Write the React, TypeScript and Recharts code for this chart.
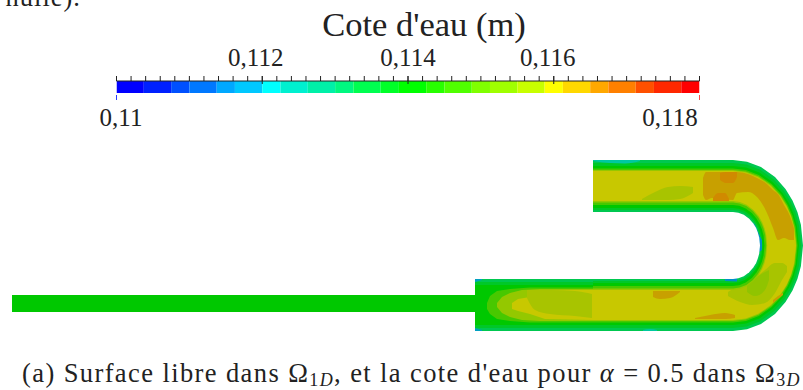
import React from "react";
import { Area, Bar, BarChart, ComposedChart, XAxis, YAxis } from "recharts";

// colour scale: each band is [width in m], same order as bandColors
const bandWidths = [
  0.000375, 0.000375, 0.00025, 0.000375, 0.00025, 0.000375, 0.00025, 0.000375, 0.000375,
  0.00025, 0.000375, 0.00025, 0.000375, 0.00025, 0.000375, 0.00025, 0.000375, 0.000375,
  0.00025, 0.000375, 0.00025, 0.000375, 0.00025, 0.000375, 0.00025,
];
const bandColors = [
  "#0000ff", "#0020ff", "#0050ff", "#0078ff", "#00a8ff", "#00c8ff", "#00ffff", "#00f0d0",
  "#00f0a8", "#00f880", "#00ff50", "#00ff28", "#00ff00", "#28ff00", "#50ff00", "#80ff00",
  "#a0ff00", "#c8ff00", "#ffff00", "#ffd800", "#ffa800", "#ff8000", "#ff5000", "#ff2800",
  "#ff0000",
];
const scaleTicks = [
  0.11, 0.1102, 0.1104, 0.1106, 0.1108, 0.111, 0.1112, 0.1114, 0.1116, 0.1118, 0.112,
  0.1122, 0.1124, 0.1126, 0.1128, 0.113, 0.1132, 0.1134, 0.1136, 0.1138, 0.114,
  0.1142, 0.1144, 0.1146, 0.1148, 0.115, 0.1152, 0.1154, 0.1156, 0.1158, 0.116,
  0.1162, 0.1164, 0.1166, 0.1168, 0.117, 0.1172, 0.1174, 0.1176, 0.1178, 0.118,
];
const upperLabels = [0.112, 0.114, 0.116];
const lowerLabels = [0.11, 0.118];

// channel outlines, rows are [x, y top, y bottom] in picture units
const pipe = [[12, 295, 312], [475, 295, 312]];
const outerEdge = [[475, 279, 331], [593, 279, 331], [593, 160, 331], [733, 160, 331], [747, 161.7, 329.3], [761, 167.1, 323.9], [775, 177.1, 313.9], [785.5, 189, 302], [792.5, 200.4, 290.6], [797.4, 212, 279], [800.9, 224.7, 266.3], [803, 245.5, 245.5]];
const outerTeal = [[475, 282, 328], [593, 282, 328], [593, 163, 328], [733, 163, 328], [746.6, 164.6, 326.4], [760.2, 169.8, 321.2], [773.8, 179.5, 311.5], [784, 191, 300], [790.8, 202, 289], [795.6, 213.2, 277.8], [799, 225.5, 265.5], [801, 245.5, 245.5]];
const outerGreen = [[475, 285, 325], [593, 285, 325], [593, 166, 325], [733, 166, 325], [746.2, 167.6, 323.4], [759.4, 172.6, 318.4], [772.6, 181.9, 309.1], [782.5, 193, 298], [789.1, 203.6, 287.4], [793.7, 214.3, 276.7], [797, 226.2, 264.8], [799, 245.5, 245.5]];
const outerLeaf = [[487, 303, 309], [490, 296, 314], [497, 291, 319], [510, 289, 321], [530, 287.5, 322.5], [593, 287.5, 322.5], [593, 168.5, 322.5], [733, 168.5, 322.5], [745.9, 170, 321], [758.8, 174.9, 316.1], [771.7, 183.9, 307.1], [781.4, 194.6, 296.4], [787.8, 204.9, 286.1], [792.3, 215.3, 275.7], [795.6, 226.8, 264.2], [797.5, 245.5, 245.5]];
const outerLime = [[497, 303, 307], [502, 297, 313], [510, 293, 317], [522, 290, 320], [540, 289, 321], [593, 289, 321], [593, 170, 321], [733, 170, 321], [745.7, 171.5, 319.5], [758.4, 176.3, 314.7], [771.1, 185.1, 305.9], [780.6, 195.6, 295.4], [787, 205.7, 285.3], [791.4, 215.9, 275.1], [794.6, 227.2, 263.8], [796.5, 245.5, 245.5]];
const core = [[512, 303, 309], [518, 299, 311], [530, 297, 314], [545, 290, 319], [593, 290, 320], [593, 171, 320], [733, 171, 320], [745.6, 172.5, 318.5], [758.2, 177.2, 313.8], [770.8, 185.9, 305.1], [780.3, 196.3, 294.7], [786.6, 206.2, 284.8], [791, 216.3, 274.7], [794.1, 227.4, 263.6], [796, 245.5, 245.5]];

// contour patches inside the core
const inletLime = [[527, 290, 298], [535, 290, 310], [550, 290, 314], [575, 291, 316], [592, 294, 318]];
const bendOchre = [[703, 178, 195], [706, 172, 200], [712, 172, 198], [733, 172, 200], [737, 172, 193], [748, 174, 192], [757, 178, 197], [767, 184, 213], [773, 190, 228], [778, 194, 240], [784, 205, 238], [790, 216, 240], [794, 228, 240]];
const bendOrangeA = [[720, 173, 180], [726, 172, 183], [733, 172, 183], [737, 172, 177]];
const bendOrangeB = [[713, 198, 201], [718, 193, 201], [725, 193, 201], [729, 199, 201]];
const upperLime = [[642, 199, 200], [655, 192, 200], [668, 187, 200], [680, 186, 199], [693, 187, 193]];
const lowerOchreA = [[653, 291, 297], [660, 291, 299], [670, 291, 298], [680, 291, 292]];
const lowerOchreB = [[695, 318, 319], [710, 315, 319], [725, 313, 319], [735, 315, 318]];
const lowerBendLime = [[728, 292, 296], [740, 285, 302], [752, 280, 305], [765, 270, 303], [775, 263, 293], [782, 263, 280], [787, 266, 272]];
const lowerBendDeep = [[747, 283, 292], [755, 278, 296], [765, 272, 290], [769, 270, 280]];
const lowerStreak = [[773, 300, 303], [778, 296, 299], [783, 293, 295]];
const edgeTealA = [[593, 160, 161], [610, 160, 163], [625, 160, 163.5], [640, 160, 161]];
const edgeTealB = [[680, 210, 212], [688, 208, 212], [697, 210, 212]];
const edgeTealC = [[643, 330, 331], [650, 329, 331], [657, 330, 331]];
const inletBlueA = [[475, 279, 282], [482, 279, 280]];
const inletBlueB = [[475, 328, 331], [482, 330, 331]];

// inner rim of the bend, biggest first
const rimLime = [[593, 201, 290], [733, 201, 290], [739.8, 201.9, 289.1], [746.7, 204.7, 286.3], [753.5, 209.9, 281.1], [758.7, 216.1, 274.9], [762.1, 222, 269], [764.5, 228.1, 262.9], [766.2, 234.7, 256.3], [767.2, 245.5, 245.5]];
const rimLeaf = [[593, 202.5, 288.5], [733, 202.5, 288.5], [739.6, 203.4, 287.6], [746.3, 206.1, 284.9], [752.9, 211.1, 279.9], [757.9, 217.1, 273.9], [761.2, 222.8, 268.2], [763.5, 228.6, 262.4], [765.2, 235.1, 255.9], [766.2, 245.5, 245.5]];
const rimGreen = [[593, 205, 286], [733, 205, 286], [739.3, 205.8, 285.2], [745.6, 208.4, 282.6], [751.9, 213.1, 277.9], [756.6, 218.7, 272.3], [759.8, 224.2, 266.8], [762, 229.6, 261.4], [763.6, 235.7, 255.3], [764.5, 245.5, 245.5]];
const rimTeal = [[593, 208, 283], [733, 208, 283], [738.9, 208.7, 282.3], [744.8, 211.1, 279.9], [750.8, 215.5, 275.5], [755.2, 220.7, 270.3], [758.2, 225.7, 265.3], [760.2, 230.8, 260.2], [761.7, 236.4, 254.6], [762.6, 245.5, 245.5]];
const rimEdge = [[593, 210, 281], [733, 210, 281], [738.7, 210.7, 280.3], [744.3, 212.9, 278.1], [750, 217.1, 273.9], [754.2, 222, 269], [757.1, 226.8, 264.2], [759, 231.6, 259.4], [760.5, 236.9, 254.1], [761.3, 245.5, 245.5]];
const rimBlueA = [[751, 222, 235], [755, 225, 247], [758, 232, 252], [762, 240, 250]];
const rimBlueB = [[725, 278, 281], [737, 278, 281.5]];
const hole = [[593, 212, 279], [733, 212, 279], [738.4, 212.7, 278.3], [743.8, 214.8, 276.2], [749.2, 218.7, 272.3], [753.3, 223.4, 267.6], [756, 227.8, 263.2], [757.8, 232.4, 258.6], [759.2, 237.4, 253.6], [760, 245.5, 245.5]];

const layers: [number[][], string, "linear" | "monotone"][] = [
  [pipe, "#00c800", "linear"],
  [outerEdge, "#00c850", "linear"],
  [outerTeal, "#00c828", "linear"],
  [outerGreen, "#00c800", "linear"],
  [outerLeaf, "#48c800", "linear"],
  [outerLime, "#94c800", "linear"],
  [core, "#c8c800", "linear"],
  [inletLime, "#a8c400", "monotone"],
  [bendOchre, "#c8a000", "monotone"],
  [bendOrangeA, "#d08a00", "monotone"],
  [bendOrangeB, "#d08a00", "monotone"],
  [upperLime, "#a8c400", "monotone"],
  [lowerOchreA, "#c8a000", "monotone"],
  [lowerOchreB, "#c8a000", "monotone"],
  [lowerBendLime, "#a8c400", "monotone"],
  [lowerBendDeep, "#90c400", "monotone"],
  [lowerStreak, "#c8a000", "linear"],
  [edgeTealA, "#00c8a0", "monotone"],
  [edgeTealB, "#00c8a0", "monotone"],
  [edgeTealC, "#00c8a0", "monotone"],
  [inletBlueA, "#00a0c0", "linear"],
  [inletBlueB, "#00a0c0", "linear"],
  [rimLime, "#94c800", "linear"],
  [rimLeaf, "#48c800", "linear"],
  [rimGreen, "#00c800", "linear"],
  [rimTeal, "#00c828", "linear"],
  [rimEdge, "#00c850", "linear"],
  [rimBlueA, "#0090c8", "monotone"],
  [rimBlueB, "#0090c8", "linear"],
  [hole, "#ffffff", "linear"],
];

const serif = "'Liberation Serif', serif";
const labelShift: Record<string, number> = { "0.112": -6.5, "0.114": 0, "0.116": -6, "0.11": 4.5, "0.118": -29.5 };

const bandRow: Record<string, number | string> = { name: "cote", base: 0.11 };
bandWidths.forEach((w, i) => {
  bandRow["b" + i] = w;
});

function ScaleLabel({ x, payload, labels, tickColor }: any) {
  if (!labels.includes(payload.value)) return null;
  const text = String(payload.value).replace(".", ",");
  const below = !!tickColor;
  return (
    <g>
      {below ? (
        <line x1={x} x2={x} y1={95} y2={100} stroke={tickColor(payload.value)} strokeWidth={1} />
      ) : (
        <line x1={x} x2={x} y1={76} y2={84} stroke="#222" strokeWidth={1} />
      )}
      <text
        x={x + labelShift[String(payload.value)]}
        y={below ? 126 : 66}
        textAnchor="middle"
        fontFamily={serif}
        fontSize={25}
        fill="#222"
      >
        {text}
      </text>
    </g>
  );
}

export default function App() {
  return (
    <div style={{ position: "absolute", left: 0, top: 0, width: 803, height: 390, background: "#fff", overflow: "hidden" }}>
      <div style={{ position: "absolute", left: 0, top: 0 }}>
        <ComposedChart width={803} height={390} margin={{ top: 0, right: 0, bottom: 0, left: 0 }}>
          <XAxis dataKey="x" type="number" domain={[0, 803]} hide />
          <YAxis type="number" domain={[0, 390]} reversed hide />
          {layers.map(([rows, color, curve], i) => (
            <Area
              key={i}
              data={rows.map(([x, top, bottom]) => ({ x, band: [top, bottom] }))}
              dataKey="band"
              type={curve}
              fill={color}
              fillOpacity={1}
              stroke="none"
              isAnimationActive={false}
            />
          ))}
          <text x={81} y={6} textAnchor="end" fontFamily={serif} fontSize={26.5} letterSpacing={1} fill="#222">
            nulle).
          </text>
          <text x={22} y={382} fontFamily={serif} fontSize={26.5} letterSpacing={1.4} fill="#222">
            (a) Surface libre dans Ω
            <tspan fontSize={18} dy={4} fontStyle="italic">
              <tspan fontStyle="normal">1</tspan>D
            </tspan>
            <tspan dy={-4}>, et la cote d'eau pour </tspan>
            <tspan fontStyle="italic">α</tspan> = 0.5 dans Ω
            <tspan fontSize={18} dy={4} fontStyle="italic">
              <tspan fontStyle="normal">3</tspan>D
            </tspan>
          </text>
        </ComposedChart>
      </div>
      <div style={{ position: "absolute", left: 0, top: 0 }}>
        <BarChart
          width={803}
          height={135}
          layout="vertical"
          data={[bandRow]}
          barCategoryGap={0}
          margin={{ top: 51, right: 103.5, bottom: 12, left: 116.5 }}
        >
          <XAxis
            xAxisId="top"
            orientation="top"
            type="number"
            domain={[0.11, 0.118]}
            allowDataOverflow
            ticks={scaleTicks}
            interval={0}
            height={30}
            tickSize={5}
            stroke="#222"
            tick={<ScaleLabel labels={upperLabels} />}
          />
          <XAxis
            xAxisId="bottom"
            orientation="bottom"
            type="number"
            domain={[0.11, 0.118]}
            allowDataOverflow
            ticks={lowerLabels}
            interval={0}
            height={30}
            axisLine={false}
            tickLine={false}
            tick={<ScaleLabel labels={lowerLabels} tickColor={(v: number) => (v === 0.11 ? "#2a3cff" : "#ff4a4a")} />}
          />
          <YAxis type="category" dataKey="name" hide />
          <Bar xAxisId="top" dataKey="base" stackId="scale" fill="none" isAnimationActive={false} />
          {bandWidths.map((_, i) => (
            <Bar
              key={i}
              xAxisId="top"
              dataKey={"b" + i}
              stackId="scale"
              fill={bandColors[i]}
              isAnimationActive={false}
            />
          ))}
          <text x={424} y={36} textAnchor="middle" fontFamily={serif} fontSize={34.5} fill="#222">
            Cote d'eau (m)
          </text>
        </BarChart>
      </div>
    </div>
  );
}
